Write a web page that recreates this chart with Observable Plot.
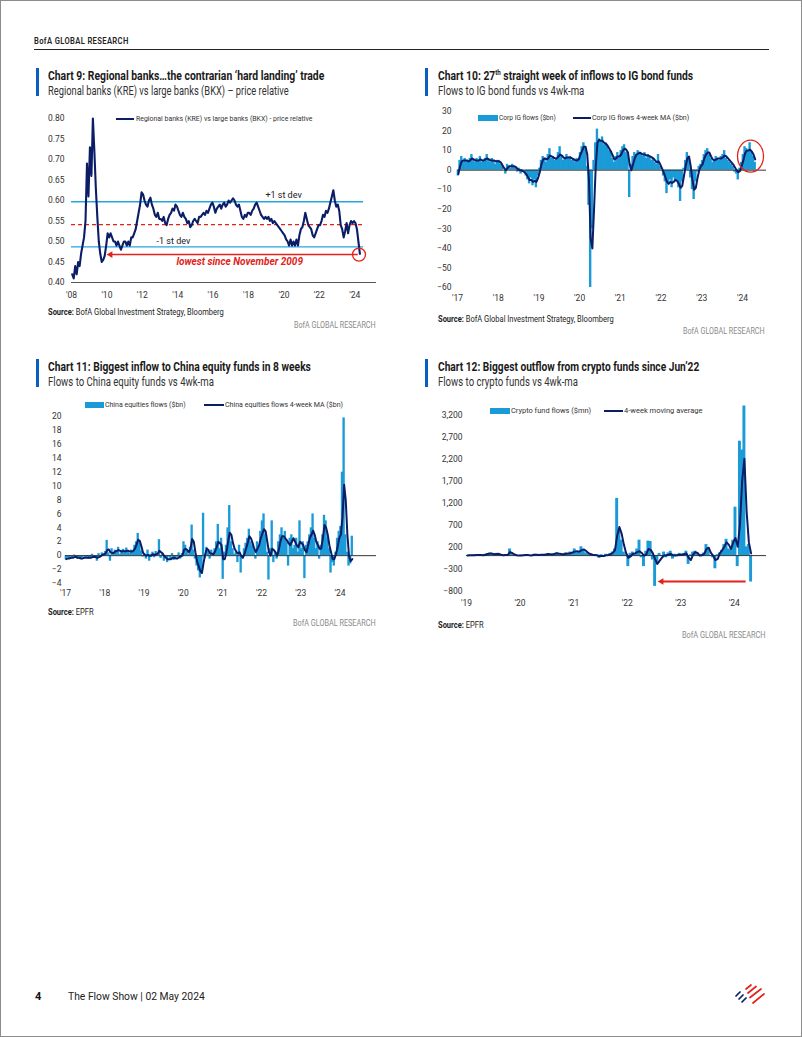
<!DOCTYPE html>
<html><head><meta charset="utf-8">
<script src="https://cdn.jsdelivr.net/npm/d3@7"></script>
<script src="https://cdn.jsdelivr.net/npm/@observablehq/plot@0.6"></script>
<style>
body{margin:0;background:#fff;}
#page{position:relative;width:802px;height:1037px;box-sizing:border-box;border:1px solid #8c8c8c;overflow:hidden;background:#fff;}
.t{position:absolute;white-space:nowrap;line-height:1;transform-origin:left center;}
</style>
</head><body><div id="page"></div>
<script>
// ---------------- DATA ----------------
// Chart 9: KRE/BKX price relative, monthly Jan-2008 .. Apr-2024
const kreBkx = [
 0.42,0.41,0.44,0.42,0.45,0.44,0.47,0.49,0.51,0.55,0.69,0.61,
 0.73,0.66,0.80,0.72,0.63,0.56,0.50,0.47,0.45,0.455,0.465,0.49,
 0.52,0.51,0.52,0.51,0.50,0.50,0.49,0.50,0.49,0.48,0.49,0.50,
 0.50,0.49,0.50,0.49,0.51,0.51,0.52,0.53,0.55,0.57,0.59,0.62,
 0.615,0.60,0.59,0.585,0.60,0.607,0.59,0.58,0.565,0.56,0.57,0.555,
 0.555,0.55,0.56,0.545,0.54,0.555,0.565,0.57,0.58,0.575,0.59,0.585,
 0.575,0.565,0.56,0.57,0.56,0.555,0.545,0.55,0.535,0.54,0.55,0.555,
 0.55,0.545,0.56,0.56,0.565,0.57,0.565,0.575,0.57,0.58,0.59,0.595,
 0.585,0.57,0.58,0.585,0.59,0.58,0.59,0.595,0.585,0.59,0.60,0.595,
 0.60,0.605,0.60,0.59,0.585,0.59,0.575,0.56,0.555,0.565,0.56,0.57,
 0.57,0.565,0.575,0.58,0.59,0.595,0.585,0.575,0.565,0.56,0.555,0.56,
 0.555,0.56,0.55,0.555,0.545,0.55,0.545,0.54,0.535,0.53,0.525,0.52,
 0.515,0.505,0.50,0.49,0.505,0.49,0.50,0.49,0.505,0.49,0.515,0.53,
 0.535,0.55,0.57,0.555,0.54,0.535,0.53,0.515,0.51,0.52,0.53,0.54,
 0.54,0.55,0.565,0.56,0.575,0.57,0.58,0.595,0.61,0.625,0.60,0.585,
 0.59,0.575,0.54,0.53,0.51,0.525,0.545,0.52,0.54,0.55,0.545,0.55,
 0.545,0.53,0.50,0.47
];
const kreStart = 2008;
const sdPlus = 0.597, sdMean = 0.541, sdMinus = 0.487;
const lowLevel = 0.468;
const c9YTicks = [0.40,0.45,0.50,0.55,0.60,0.65,0.70,0.75,0.80];
const c9XTicks = [2008,2010,2012,2014,2016,2018,2020,2022,2024];

// Chart 10: Corp IG flows ($bn), semi-monthly 2017 .. Apr-2024, and 4-week MA
const igFlows = [
 -3,5,7,4,6,5,4,6,8,5,4,6,5,7,4,5,6,8,5,4,6,5,3,5,
 5,3,2,0,-2,3,2,1,3,2,1,-1,1,-2,-1,0,-3,-5,-7,-4,-8,-5,-9,-3,
 1,5,7,6,4,8,11,6,7,5,6,9,12,7,5,6,8,6,7,5,6,4,6,5,
 9,12,14,11,2,-18,-60,-30,5,14,21,16,15,17,13,14,12,10,9,6,4,7,9,6,
 10,12,13,9,8,-14,3,7,9,8,10,9,8,7,9,6,8,7,5,6,4,3,8,2,
 0,-3,-6,-12,-7,-5,-9,-4,-6,-5,-9,-16,-6,1,5,9,6,-4,-10,-15,-6,-1,2,3,
 5,8,10,11,8,6,4,5,7,6,5,7,8,10,6,5,4,3,2,-1,-2,-5,1,4,
 8,12,11,10,14,9,7,4
];
const igMA = [
 -2,2,4.5,5,5,5,4.5,5,6,5.5,5,5,5,5.5,5,5,5.5,6,5.5,5,5,5,4.5,4.5,
 4.5,4,2.5,1,0,1,2,2,2,2,1.5,0.5,0,0,-0.5,-1,-2,-3.5,-5,-5,-6,-5.5,-6,-4,
 -1,3,5.5,6,5.5,6,7.5,7,6.5,6,6,7,8,7.5,6.5,6,6.5,6.5,6.5,6,5.5,5,5,5.5,
 8,10,12,12,8,-5,-35,-40,-20,2,14,15.5,15,15,14,13.5,12.5,11,9.5,7.5,5.5,6,7,7,
 8,10,11,10.5,9,3,0,3,6,8,8.5,9,8.5,8,8,7.5,7.5,7,6.5,6,5,4,4.5,3,
 1,-1,-3.5,-6,-7,-6,-6.5,-6,-5,-5.5,-7,-9,-8,-3,2,6,7,2,-5,-10,-9,-4,0,2,
 3,6,8,9,9,7,5.5,5,5.5,6,6,6,6.5,7.5,7,6,5,4,3,1.5,0,-1,-0.5,2,
 5,8.5,10,10,10.5,9.5,8,5.5
];
const flowStart = 2017;
const c10YTicks = [-60,-50,-40,-30,-20,-10,0,10,20,30];
const yearTicks17 = [2017,2018,2019,2020,2021,2022,2023,2024];
const ig2024Circle = {x: 2024.21, y: 6.9};

// Chart 11: China equities flows ($bn), semi-monthly 2017 .. Apr-2024, and 4-week MA
const chinaFlows = [
 -0.6,-0.3,-0.5,-0.2,-0.4,0.1,-0.3,-0.5,-0.2,-0.6,-0.3,-0.1,-0.4,-0.2,-0.5,-0.3,0.2,-0.4,-0.1,-0.8,0.3,-0.2,0.4,0.1,
 0.6,2.2,0.4,-0.8,1.0,0.3,0.8,0.5,1.2,0.2,0.7,0.9,0.4,1.1,0.6,0.3,0.8,0.5,1.5,2.0,3.2,1.8,0.7,-0.2,
 0.3,-0.5,0.8,-0.8,0.2,0.5,-0.3,0.6,0.1,2.3,-0.4,0.2,-0.8,-0.3,-1.0,-0.2,-0.6,0.3,-0.7,-0.4,-0.2,0.4,-0.5,0.3,
 2.0,1.5,0.6,0.2,1.2,4.4,0.8,-0.5,-1.5,-2.2,-3.2,-2.6,6.1,-0.4,1.2,0.6,-0.5,0.8,0.3,1.0,2.0,4.5,1.0,2.5,
 -3.4,0.5,1.5,4.0,7.2,2.0,1.0,0.2,0.5,-1.0,1.5,-2.5,-0.5,1.0,1.8,2.5,3.8,2.0,1.5,0.8,-0.5,2.0,1.0,3.5,
 5.0,6.0,3.0,0.5,-3.5,1.0,5.0,-1.0,0.5,-0.5,2.0,3.0,4.0,2.5,3.5,2.0,-1.5,2.5,3.0,1.0,1.5,2.5,0.5,5.0,
 1.0,2.0,-3.3,1.5,2.0,3.0,4.0,6.0,2.5,1.0,2.0,-0.5,1.5,3.0,5.8,5.0,2.5,1.0,-2.5,-1.0,-1.5,0.5,2.5,3.5,
 4.2,12.0,19.8,3.0,0.5,-1.5,-1.2,2.8
];
const chinaMA = [
 -0.5,-0.4,-0.4,-0.3,-0.3,-0.2,-0.2,-0.3,-0.3,-0.4,-0.4,-0.3,-0.3,-0.3,-0.3,-0.3,-0.2,-0.2,-0.2,-0.3,-0.2,-0.1,0.1,0.2,
 0.3,0.8,0.9,0.5,0.4,0.4,0.6,0.7,0.8,0.7,0.6,0.7,0.6,0.7,0.7,0.6,0.6,0.7,1.0,1.6,2.3,2.1,1.3,0.4,
 0.1,0.0,0.1,0.0,0.0,0.2,0.1,0.2,0.3,0.7,0.5,0.3,-0.1,-0.3,-0.5,-0.5,-0.5,-0.3,-0.3,-0.4,-0.4,-0.2,-0.1,0.0,
 0.8,1.0,0.8,0.5,1.0,2.4,2.0,0.5,-0.8,-1.5,-2.2,-2.5,-1.0,0.2,1.0,0.8,0.3,0.3,0.2,0.6,1.2,2.0,1.8,1.5,
 -0.5,-0.5,0.5,2.0,3.3,3.0,1.8,1.0,0.6,0.3,0.5,0.0,-0.3,0.2,1.0,1.8,2.8,2.5,1.8,1.0,0.5,1.0,1.5,2.5,
 3.2,3.8,3.5,2.0,0.5,0.0,1.0,0.8,0.5,0.0,0.8,2.0,2.8,2.8,2.5,2.2,1.8,1.5,2.0,2.5,2.0,1.5,1.2,2.0,
 1.8,1.5,0.8,0.5,1.5,2.5,3.0,3.6,3.0,2.0,1.5,1.0,1.0,2.5,4.4,4.0,3.0,1.5,0.5,-0.5,-0.5,0.2,1.2,2.5,
 3.0,5.5,10.2,8.0,3.0,0.0,-0.8,-0.5
];
const c11YTicks = [-4,-2,0,2,4,6,8,10,12,14,16,18,20];

// Chart 12: Crypto fund flows ($mn), semi-monthly 2019 .. Apr-2024, and 4-week MA
const cryptoFlows = [
 5,10,0,15,10,20,5,10,30,45,60,40,20,50,30,10,5,20,15,150,40,10,5,0,
 10,5,20,10,0,15,30,10,20,25,10,30,40,20,30,50,60,30,40,20,60,30,80,60,
 150,60,90,200,120,60,30,20,10,20,-10,-60,20,-40,30,20,40,80,150,1300,550,350,80,20,
 -250,50,80,20,150,350,-50,-250,100,330,320,-100,-700,-150,50,-20,80,-50,60,100,-80,30,20,50,
 30,50,100,-200,20,80,100,40,-20,30,60,250,180,-20,-50,-300,20,60,120,250,370,150,120,350,
 1100,-250,2600,2400,3400,200,250,-600
];
const cryptoMA = [
 5,8,6,8,12,15,12,8,20,35,45,45,30,35,40,20,8,12,15,80,60,25,8,3,
 5,8,12,15,5,8,20,20,15,22,18,20,35,30,25,40,55,45,35,30,40,45,55,70,
 90,100,90,120,140,110,60,35,20,15,10,-15,-10,-10,5,15,30,60,120,450,650,500,250,60,
 -50,-20,40,50,80,100,60,0,20,150,130,50,-80,-190,-120,-50,0,10,20,40,10,0,10,20,
 20,30,50,-50,-100,20,80,60,0,10,40,150,180,60,0,-100,-80,50,120,200,300,250,150,300,
 400,200,700,1700,2200,1000,300,50
];
const cryptoStart = 2019;
const c12YTicks = [-800,-300,200,700,1200,1700,2200,2700,3200];
const yearTicks19 = [2019,2020,2021,2022,2023,2024];
const cryptoArrow = {from: 2024.22, to: 2022.58, y: -589};

// ---------------- STYLE ----------------
const FONT = "'Liberation Sans Narrow','Roboto',sans-serif";
const NAVY = "#0B1D66", LBLUE = "#1A9BD8", RED = "#E2231A", SDBLUE = "#25A6E1", BARBLUE = "#0A5EC2";
const page = document.getElementById("page");
const yrFmt = d => "'" + String(d).slice(2);

function T(x, yc, html, o = {}) {
  const d = document.createElement("div");
  d.className = "t";
  d.style.left = x + "px"; d.style.top = yc + "px";
  d.style.fontFamily = FONT;
  d.style.fontSize = (o.size || 8.5) + "px";
  d.style.fontWeight = o.weight || "normal";
  d.style.color = o.color || "#222";
  if (o.ls) d.style.letterSpacing = o.ls + "px";
  d.innerHTML = html;
  page.appendChild(d);
  let k = 1;
  if (o.w) k = o.w / d.offsetWidth;
  d.style.transform = `translateY(-50%) scaleX(${k})`;
  return d;
}
function box(x, y, w, h, color) {
  const d = document.createElement("div");
  d.style.cssText = `position:absolute;left:${x}px;top:${y}px;width:${w}px;height:${h}px;background:${color}`;
  page.appendChild(d);
}
function place(node, left, top) {
  const d = document.createElement("div");
  d.style.cssText = `position:absolute;left:${left}px;top:${top}px`;
  d.appendChild(node);
  page.appendChild(d);
}
const axStyle = {fontFamily: FONT, fontSize: "8.5px", color: "#333", background: "none", overflow: "visible"};
const barOpts = {x1: "t0", x2: "t1", y: "v", fill: LBLUE, insetLeft: -0.35, insetRight: -0.35};

// ---------------- PAGE CHROME ----------------
T(33, 40, "BofA GLOBAL RESEARCH", {size: 8.5, weight: "600", w: 95, ls: 0.4, color: "#222"});
box(33, 47.5, 735, 1.5, "#222");

// Titles
box(35, 67, 3, 28, BARBLUE);
T(47, 75, "Chart 9: Regional banks…the contrarian ‘hard landing’ trade", {size: 13.5, weight: "bold", w: 276, color: "#1a1a1a"});
T(47, 89, "Regional banks (KRE) vs large banks (BKX) – price relative", {size: 13, w: 241, color: "#333"});
box(424, 67, 3, 28, BARBLUE);
T(437, 75, "Chart 10: 27<sup style='font-size:0.6em;line-height:0'>th</sup> straight week of inflows to IG bond funds", {size: 13.5, weight: "bold", w: 255, color: "#1a1a1a"});
T(437, 89, "Flows to IG bond funds vs 4wk-ma", {size: 13, w: 146, color: "#333"});
box(35, 358, 3, 28, BARBLUE);
T(47, 366, "Chart 11: Biggest inflow to China equity funds in 8 weeks", {size: 13.5, weight: "bold", w: 263, color: "#1a1a1a"});
T(47, 380, "Flows to China equity funds vs 4wk-ma", {size: 13, w: 166, color: "#333"});
box(424, 358, 3, 28, BARBLUE);
T(437, 366, "Chart 12: Biggest outflow from crypto funds since Jun’22", {size: 13.5, weight: "bold", w: 261, color: "#1a1a1a"});
T(437, 380, "Flows to crypto funds vs 4wk-ma", {size: 13, w: 140, color: "#333"});

// Sources and brand
T(47, 311, "<b>Source:</b> BofA Global Investment Strategy, Bloomberg", {size: 8.5, w: 176});
T(437, 318, "<b>Source:</b> BofA Global Investment Strategy, Bloomberg", {size: 8.5, w: 176});
T(47, 611, "<b>Source:</b> EPFR", {size: 8.5, w: 46});
T(437, 624, "<b>Source:</b> EPFR", {size: 8.5, w: 46});
T(293, 324, "BofA GLOBAL RESEARCH", {size: 8.5, w: 82, color: "#8a8a8a"});
T(682, 330, "BofA GLOBAL RESEARCH", {size: 8.5, w: 82, color: "#8a8a8a"});
T(292, 622, "BofA GLOBAL RESEARCH", {size: 8.5, w: 83, color: "#8a8a8a"});
T(681, 634, "BofA GLOBAL RESEARCH", {size: 8.5, w: 84, color: "#8a8a8a"});

// Footer
T(34, 995, "4", {size: 11, weight: "bold", color: "#111"});
T(67, 995, "The Flow Show | 02 May 2024", {size: 11, w: 137, color: "#222"});
page.insertAdjacentHTML("beforeend", `<svg style="position:absolute;left:732px;top:982px" width="36" height="24" viewBox="0 0 36 24">
<g stroke-linecap="round" fill="none">
<line x1="3" y1="13" x2="7" y2="9" stroke="#0B1D66" stroke-width="1.7"/>
<line x1="6" y1="16" x2="10" y2="12" stroke="#0B1D66" stroke-width="1.7"/>
<line x1="9" y1="19" x2="13" y2="15" stroke="#0B1D66" stroke-width="1.7"/>
<line x1="13" y1="6" x2="18" y2="2" stroke="#E2231A" stroke-width="1.7"/>
<line x1="15" y1="10" x2="23" y2="3.5" stroke="#E2231A" stroke-width="1.7"/>
<line x1="17" y1="14.5" x2="28" y2="6" stroke="#E2231A" stroke-width="1.7"/>
<line x1="20" y1="20" x2="31" y2="11" stroke="#E2231A" stroke-width="1.7"/>
</g></svg>`);

// Legends
function legLine(x1, x2, y) { box(x1, y - 1, x2 - x1, 2, NAVY); }
legLine(115, 133, 118);
T(135, 118, "Regional banks (KRE) vs large banks (BKX) - price relative", {size: 8, w: 176, color: "#333"});
box(477, 114, 20, 6, LBLUE);
T(498, 117, "Corp IG flows ($bn)", {size: 8, w: 57, color: "#333"});
legLine(572, 590, 117);
T(591, 117, "Corp IG flows 4-week MA ($bn)", {size: 8, w: 97, color: "#333"});
box(84, 401, 19, 6, LBLUE);
T(104, 404, "China equities flows ($bn)", {size: 8, w: 81, color: "#333"});
legLine(203, 223, 404);
T(224, 404, "China equities flows 4-week MA ($bn)", {size: 8, w: 118, color: "#333"});
box(489, 407, 20, 6, LBLUE);
T(510, 410, "Crypto fund flows ($mn)", {size: 8, w: 80, color: "#333"});
legLine(603, 622, 410);
T(623, 410, "4-week moving average", {size: 8, w: 78, color: "#333"});

// ---------------- CHART 9 ----------------
const rows9 = kreBkx.map((v, i) => ({t: kreStart + (i + 0.5) / 12, v}));
const lastT9 = rows9[rows9.length - 1].t;
const c9 = Plot.plot({
  width: 390, height: 205, marginLeft: 70, marginRight: 15, marginTop: 17, marginBottom: 24,
  style: axStyle,
  x: {domain: [2008, 2025.23], ticks: c9XTicks, tickFormat: yrFmt, tickSize: 0, tickPadding: 9, label: null},
  y: {domain: [0.40, 0.80], ticks: c9YTicks, tickFormat: d3.format(".2f"), tickSize: 0, tickPadding: 7, label: null},
  marks: [
    Plot.ruleY([0.40], {stroke: "#555", strokeWidth: 1}),
    Plot.ruleY([sdPlus, sdMinus], {x1: 2008, x2: 2024.5, stroke: SDBLUE, strokeWidth: 1.3}),
    Plot.ruleY([sdMean], {x1: 2008, x2: 2024.5, stroke: RED, strokeWidth: 1.3, strokeDasharray: "4,3"}),
    Plot.line(rows9, {x: "t", y: "v", stroke: NAVY, strokeWidth: 2.1}),
    Plot.ruleY([lowLevel], {x1: 2010.3, x2: 2024.2, stroke: RED, strokeWidth: 1.5}),
    Plot.dot([{x: 2010.2, y: lowLevel}], {x: "x", y: "y", symbol: "triangle2", rotate: -90, r: 3.2, fill: RED}),
    Plot.dot([{x: lastT9 - 0.05, y: lowLevel}], {x: "x", y: "y", r: 6.5, stroke: RED, strokeWidth: 1.3, fill: "none"}),
    Plot.text([{x: 2017.5, y: 0.451, s: "lowest since November 2009"}], {x: "x", y: "y", text: "s", fill: RED, fontWeight: "bold", fontStyle: "italic", fontSize: 10}),
    Plot.text([{x: 2019.98, y: 0.612, s: "+1 st dev"}, {x: 2013.76, y: 0.50, s: "-1 st dev"}], {x: "x", y: "y", text: "s", fill: "#222", fontSize: 9})
  ]
});
place(c9, 0, 100);

// ---------------- CHART 10 ----------------
const rows10 = igFlows.map((v, i) => ({t0: flowStart + i / 24, t1: flowStart + (i + 1) / 24, v}));
const ma10 = igMA.map((v, i) => ({t: flowStart + (i + 0.5) / 24, v}));
const ellipseMark = (index, scales) => {
  const e = document.createElementNS("http://www.w3.org/2000/svg", "ellipse");
  e.setAttribute("cx", scales.x(ig2024Circle.x));
  e.setAttribute("cy", scales.y(ig2024Circle.y));
  e.setAttribute("rx", 13); e.setAttribute("ry", 16);
  e.setAttribute("fill", "none"); e.setAttribute("stroke", RED); e.setAttribute("stroke-width", 1.3);
  return e;
};
const c10 = Plot.plot({
  width: 380, height: 210, marginLeft: 56, marginRight: 15, marginTop: 10, marginBottom: 24,
  style: axStyle,
  x: {domain: [2017, 2024.59], ticks: yearTicks17, tickFormat: yrFmt, tickSize: 0, tickPadding: 7, label: null},
  y: {domain: [-60, 30], ticks: c10YTicks, tickSize: 0, tickPadding: 6, label: null},
  marks: [
    Plot.rectY(rows10, barOpts),
    Plot.ruleY([0], {stroke: "#333", strokeWidth: 1}),
    Plot.line(ma10, {x: "t", y: "v", stroke: NAVY, strokeWidth: 2}),
    ellipseMark
  ]
});
place(c10, 400, 100);

// ---------------- CHART 11 ----------------
const rows11 = chinaFlows.map((v, i) => ({t0: flowStart + i / 24, t1: flowStart + (i + 1) / 24, v}));
const ma11 = chinaMA.map((v, i) => ({t: flowStart + (i + 0.5) / 24, v}));
const c11 = Plot.plot({
  width: 390, height: 205, marginLeft: 64, marginRight: 15, marginTop: 15, marginBottom: 23,
  style: axStyle,
  x: {domain: [2017, 2024.93], ticks: yearTicks17, tickFormat: yrFmt, tickSize: 0, tickPadding: 6, label: null},
  y: {domain: [-4, 20], ticks: c11YTicks, tickSize: 0, tickPadding: 4, label: null},
  marks: [
    Plot.rectY(rows11, barOpts),
    Plot.ruleY([0], {stroke: "#333", strokeWidth: 1}),
    Plot.line(ma11, {x: "t", y: "v", stroke: NAVY, strokeWidth: 2})
  ]
});
place(c11, 0, 400);

// ---------------- CHART 12 ----------------
const rows12 = cryptoFlows.map((v, i) => ({t0: cryptoStart + i / 24, t1: cryptoStart + (i + 1) / 24, v}));
const ma12 = cryptoMA.map((v, i) => ({t: cryptoStart + (i + 0.5) / 24, v}));
const c12 = Plot.plot({
  width: 380, height: 212, marginLeft: 65, marginRight: 15, marginTop: 13.3, marginBottom: 22.7,
  style: axStyle,
  x: {domain: [2019, 2024.6], ticks: yearTicks19, tickFormat: yrFmt, tickSize: 0, tickPadding: 9, label: null},
  y: {domain: [-800, 3200], ticks: c12YTicks, tickFormat: d3.format(","), tickSize: 0, tickPadding: 4, label: null},
  marks: [
    Plot.rectY(rows12, barOpts),
    Plot.ruleY([0], {stroke: "#333", strokeWidth: 1}),
    Plot.line(ma12, {x: "t", y: "v", stroke: NAVY, strokeWidth: 2}),
    Plot.ruleY([cryptoArrow.y], {x1: cryptoArrow.to + 0.08, x2: cryptoArrow.from, stroke: RED, strokeWidth: 1.8}),
    Plot.dot([{x: cryptoArrow.to + 0.06, y: cryptoArrow.y}], {x: "x", y: "y", symbol: "triangle2", rotate: -90, r: 3.2, fill: RED})
  ]
});
place(c12, 400, 400);
</script>
</body></html>
